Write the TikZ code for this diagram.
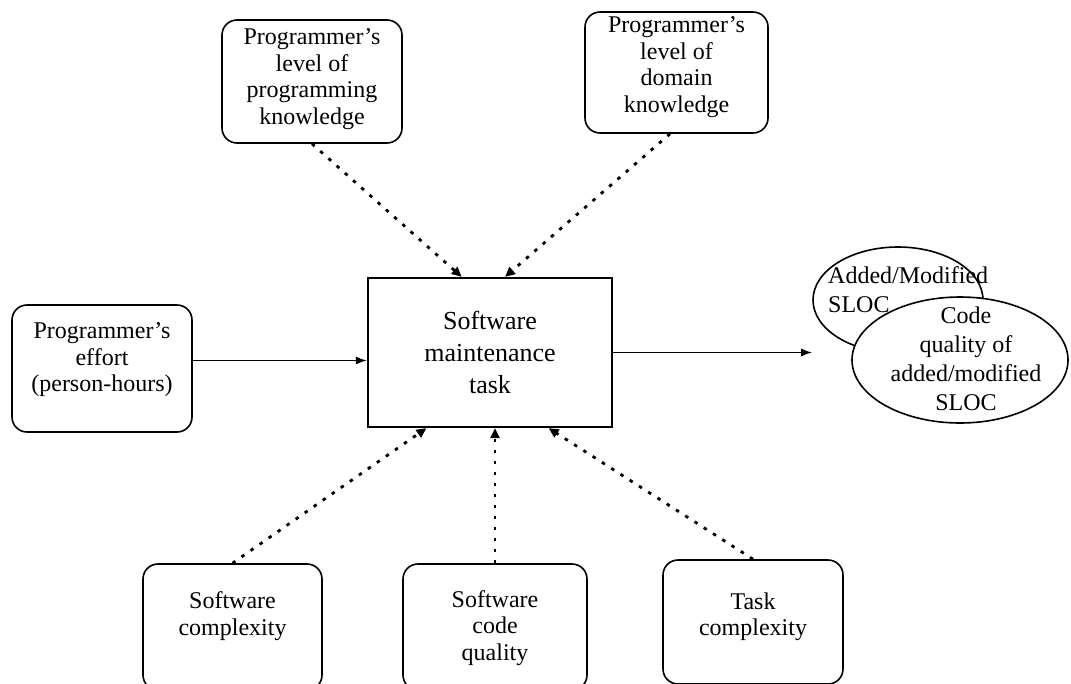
\documentclass[tikz,border=0pt]{standalone}
\usepackage{fontspec}
\setmainfont{Liberation Serif}
\usetikzlibrary{shapes.geometric,arrows.meta,calc}
\newcommand\fsbox{\fontsize{24}{26.5}\selectfont}
\newcommand\fsmain{\fontsize{26}{32}\selectfont}
\newcommand\fsell{\fontsize{24}{29}\selectfont}
\begin{document}
\begin{tikzpicture}[x=1pt,y=-1pt,
  fbox/.style={draw, line width=1.6pt, rounded corners=15pt, inner sep=0pt},
  btxt/.style={align=center, font=\fsbox, inner sep=0pt},
  mbox/.style={draw, line width=2.2pt, align=center, font=\fsmain, inner sep=0pt},
  oval/.style={draw, ellipse, line width=1.6pt, fill=white, inner sep=0pt},
  etxt/.style={font=\fsell, inner sep=0pt},
  flow/.style={line width=1.6pt, -{Latex[length=11pt,width=8pt]}},
  infl/.style={line width=2.8pt, dash pattern=on 3.5pt off 7.5pt, -{Triangle[length=10pt,width=9pt]}},
]
\fill[white] (0,0) rectangle (1071,683);
\useasboundingbox (0,0) rectangle (1071,683);

% factor boxes
\node[fbox, minimum width=180pt, minimum height=123pt] (p1) at (312,81.5) {};
\node[btxt] (p1t) at (312,79) {Programmer’s\\level of\\programming\\knowledge};
\node[fbox, minimum width=183pt, minimum height=121pt] (p2) at (676.5,72.5) {};
\node[btxt] (p2t) at (676.5,67) {Programmer’s\\level of\\domain\\knowledge};
\node[fbox, minimum width=180pt, minimum height=127pt] (p3) at (102,368.5) {};
\node[btxt] (p3t) at (102,360) {Programmer’s\\effort\\(person-hours)};

% main task
\node[mbox, minimum width=244pt, minimum height=149pt] (m) at (490,352.5) {Software\\maintenance\\task};

% bottom boxes
\node[fbox, minimum width=179pt, minimum height=126pt] (b1) at (232.5,627) {};
\node[btxt] (b1t) at (232.5,616) {Software\\complexity};
\node[fbox, minimum width=184pt, minimum height=126pt] (b2) at (495,627) {};
\node[btxt] (b2t) at (495,628) {Software\\code\\quality};
\node[fbox, minimum width=180pt, minimum height=124pt] (b3) at (753,622) {};
\node[btxt] (b3t) at (753,617) {Task\\complexity};

% outputs
\node[oval, minimum width=170pt, minimum height=106pt] (e1) at (898,300) {};
\node[oval, minimum width=216pt, minimum height=126pt] (e2) at (960,360) {};
\node[etxt, anchor=north west, align=left] (e1t) at (828,266) {Added/Modified\\SLOC};
\node[etxt, align=center] (e2t) at (966,359) {Code\\quality of\\added/modified\\SLOC};

% connectors
\coordinate (p3o) at ($(p3.east)+(0,-8)$);
\draw[flow] (p3o) -- (p3o -| m.west);
\draw[flow] (m.east) -- (m.east -| e1.west);

\draw[infl] (p1.south) -- ($(m.north west)!0.385!(m.north east)$);
\draw[infl] ($(p2.south west)!0.465!(p2.south east)$) -- ($(m.north west)!0.561!(m.north east)$);
\draw[infl] (b1.north) -- ($(m.south west)!0.242!(m.south east)$);
\draw[infl] (b2.north) -- (b2.north |- m.south);
\draw[infl] (b3.north) -- ($(m.south west)!0.738!(m.south east)$);
\end{tikzpicture}
\end{document}
